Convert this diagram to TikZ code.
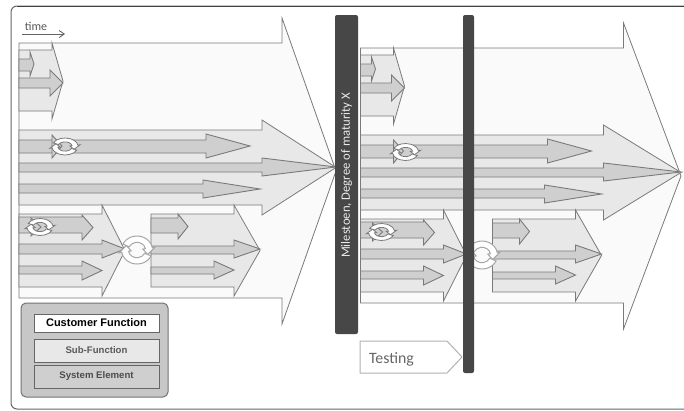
\documentclass[tikz,border=0pt]{standalone}
\usepackage{fontspec}
\setmainfont{Carlito}
\newfontfamily\legendfont{Liberation Sans}
\usepackage{xcolor}
\colorlet{colorEdge}{black!52}
\colorlet{colorOuter}{black!2}
\colorlet{colorFunction}{black!9}
\colorlet{colorElement}{black!19}
\colorlet{colorBar}{black!72}
\usetikzlibrary{arrows.meta, positioning}
\tikzset{
  customerfn/.style={draw=colorEdge, line width=0.8pt, fill=colorOuter},
  subfn/.style={draw=colorEdge, line width=0.8pt, fill=colorFunction},
  syselement/.style={draw=colorEdge, line width=0.9pt, fill=colorElement},
  milestonebar/.style={fill=colorBar, rounded corners=2pt},
  legendbox/.style={draw=black!60, line width=1pt, minimum width=125pt, inner sep=0pt, font=\legendfont\bfseries\fontsize{9.6}{11}\selectfont},
  ringsector/.style={draw=colorEdge, line width=0.8pt, fill=white},
  bigring/.style={xscale=15.5, yscale=14, ringsector/.append style={draw=black!35, line width=1pt}},
  smallring/.style={xscale=13, yscale=8.5}
}
\newcommand{\blockarrow}[8]{\draw[#1] (#2,#5) -- (#3,#5) -- (#3,#7) -- (#4,{(#7+#8)/2}) -- (#3,#8) -- (#3,#6) -- (#2,#6) -- cycle;}
\tikzset{
  ringicon/.pic={
    \foreach \a in {0,180} {
      \draw[ringsector, rotate=\a] (25:1) arc[start angle=25, end angle=170, radius=1] -- (170:1.18) -- (205:.76) -- (170:.38) -- (170:.55) arc[start angle=170, end angle=25, radius=.55] -- cycle;
    }
  },
  blockgroup/.pic={
    \blockarrow{customerfn}{0}{263}{\maintip}{25}{280}{0}{306}
    \blockarrow{subfn}{0}{33}{44}{32}{93}{25}{101}
    \blockarrow{syselement}{0}{11}{15}{41}{53}{34}{58}
    \blockarrow{syselement}{0}{31}{44}{60}{70}{52}{78}
    \blockarrow{subfn}{0}{243}{\maintip}{112}{187}{102}{197}
    \blockarrow{syselement}{0}{187}{231}{122}{135}{116}{140}
    \blockarrow{syselement}{0}{243}{\maintip}{145}{154}{140}{158}
    \blockarrow{syselement}{0}{184}{241}{166}{175}{162}{180}
    \blockarrow{subfn}{0}{83}{106}{196}{269}{187}{278}
    \blockarrow{syselement}{0}{63}{74}{199}{215}{197}{222}
    \blockarrow{syselement}{0}{83}{106}{226}{236}{222}{240}
    \blockarrow{syselement}{0}{63}{83}{248}{256}{243}{262}
    \blockarrow{subfn}{132}{215}{241}{196}{269}{187}{278}
    \blockarrow{syselement}{132}{159}{169}{200}{215}{196}{221}
    \blockarrow{syselement}{132}{215}{241}{228}{236}{222}{240}
    \blockarrow{syselement}{132}{195}{215}{249}{256}{243}{261}
  }
}
\begin{document}
\begin{tikzpicture}[x=1pt, y=-1pt]
\useasboundingbox (0,0) rectangle (684,410);
\fill[white] (0,0) rectangle (684,410);
\draw[black!60, line width=1pt, rounded corners=6pt] (684,409) -- (11,409) -- (11,6) -- (684,6);
\draw[black!75, line width=1pt] (17,6) -- (684,6);
\node[font=\fontsize{12}{13}\selectfont, text=black!65, inner sep=0pt] (timelabel) at (36,26) {time};
\coordinate (timestart) at (22,34);
\coordinate (timeend) at (65,34);
\draw[-{Straight Barb[length=5pt,width=7pt]}, black!60, line width=0.9pt] (timestart) -- (timeend);
\def\maintip{317}
\pic (leftset) at (19,18) {blockgroup};
\def\maintip{320.5}
\pic (rightset) at (360.5,23) {blockgroup};
\draw[syselement] (52,135) -- (62,146) -- (52,158) -- cycle;
\pic[smallring] (ringleftsmall) at (65,146.5) {ringicon};
\draw[syselement] (31,218) -- (31,236) -- (41,227) -- cycle;
\pic[smallring] (ringlefttwo) at (40,227) {ringicon};
\pic[bigring] (ringleftbig) at (137,250) {ringicon};
\draw[syselement] (393.5,140) -- (403.5,151) -- (393.5,163) -- cycle;
\pic[smallring] (ringrightsmall) at (405.5,152) {ringicon};
\draw[syselement] (372.5,223) -- (372.5,241) -- (382.5,232) -- cycle;
\pic[smallring] (ringrighttwo) at (381.5,232) {ringicon};
\pic[bigring] (ringrightbig) at (482,255) {ringicon};
\node[milestonebar, minimum width=23pt, minimum height=319pt, inner sep=0pt] (milestone) at (346.5,174.5) {};
\node[rotate=90, text=black!8, font=\fontsize{12.7}{14}\selectfont, inner sep=0pt] (milestonelabel) at (346.5,175.5) {Milestoen, Degree of maturity X};
\node[milestonebar, minimum width=11pt, minimum height=358pt, inner sep=0pt] (testbar) at (468.5,194) {};
\draw[black!30, line width=1pt] (360,341) -- (447,341) -- (462,357) -- (447,373) -- (360,373) -- cycle;
\node[font=\fontsize{15.8}{17}\selectfont, text=black!60, inner sep=0pt] (testing) at (391.5,359) {Testing};
\draw[draw=black!55, line width=1pt, fill=black!22, rounded corners=5pt] (21,303) rectangle (168,397);
\node[legendbox, fill=white, minimum height=18pt, font=\legendfont\bfseries\fontsize{11}{12}\selectfont] (customer) at (96.5,323) {Customer Function};
\node[legendbox, fill=colorFunction, minimum height=23pt, text=black!65, below=6pt of customer] (subfunction) {Sub-Function};
\node[legendbox, fill=colorElement, minimum height=23pt, text=black!70, below=2pt of subfunction] (element) {System Element};
\end{tikzpicture}
\end{document}
